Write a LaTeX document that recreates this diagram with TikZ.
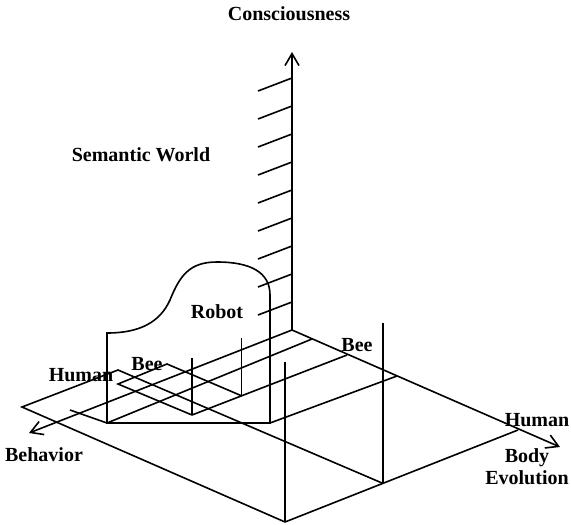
\documentclass[tikz,border=0pt]{standalone}
\usepackage{fontspec}
\setmainfont{Liberation Serif}
\usetikzlibrary{arrows.meta,calc}

\begin{document}
\begin{tikzpicture}[x=0.5pt,y=-0.5pt,line width=0.8pt,
    axis/.style={-{Straight Barb[length=6pt,width=7pt]}},
    lbl/.style={font=\bfseries\fontsize{10}{11}\selectfont,inner sep=0pt,align=center}]
    \useasboundingbox (0,0) rectangle (571,524);
    % axes
    \coordinate (O) at (292,330);
    \coordinate (ctop) at (292,52);
    \coordinate (btip) at (29,433);
    \coordinate (etip) at (560,447);
    \draw[axis] (O) -- (ctop);
    \draw[axis] (O) -- (btip);
    \draw[axis] (O) -- (etip);
    \foreach \y in {78,106,...,302}{
        \draw (292,\y) -- ++(-34,13);
    }
    % marks on the evolution axis
    \coordinate (e1) at (312,339);
    \coordinate (ebee) at (347,355);
    \coordinate (e3) at (397,376);
    \coordinate (ehum) at (518,430);
    % bee
    \coordinate (bb1) at (118,384);
    \coordinate (bb2) at (167,364);
    \coordinate (bf1) at (192,415);
    \coordinate (bf2) at ($(bf1)!0.32!(ebee)$);
    \draw (bf1) -- (bb1) -- (bb2) -- (bf2);
    \draw (bf1) -- (ebee);
    \draw (bf1) -- ++(0,-57);
    \draw (bf2) -- ++(0,-58);
    % human
    \coordinate (hb1) at (22,407);
    \coordinate (hb2) at (118,370);
    \coordinate (hf1) at (285,522);
    \coordinate (hf2) at ($(hf1)!0.42!(ehum)$);
    \draw (hf2) -- (hb2) -- (hb1) -- (hf1);
    \draw (hf1) -- (ehum);
    \draw (hf1) -- ++(0,-160);
    \draw (hf2) -- ++(0,-160);
    % robot
    \coordinate (rl) at (107,423);
    \coordinate (rr) at (270,423);
    \coordinate (rx) at (70,410);
    \draw (rl) -- (107,333) .. controls (140,333) and (160,322) .. (170,300)
        .. controls (180,275) and (190,262) .. (217,262)
        .. controls (250,262) and (270,272) .. (270,295) -- (rr) -- cycle;
    \draw (rx) -- (rl) -- (e1);
    \draw (rr) -- (e3);
    % labels
    \node[lbl] (conlbl) at (289,14) {Consciousness};
    \node[lbl] (semlbl) at (141,155) {Semantic World};
    \node[lbl] (roblbl) at (217,312) {Robot};
    \node[lbl] (behlbl) at (44,455) {Behavior};
    \node[lbl] (evolbl) at (527,467) {Body\\Evolution};
    \node[lbl] (humb) at (81,375) {Human};
    \node[lbl] (beeb) at (147,364) {Bee};
    \node[lbl] (beee) at (357,345) {Bee};
    \node[lbl] (hume) at (537,420) {Human};
\end{tikzpicture}
\end{document}
